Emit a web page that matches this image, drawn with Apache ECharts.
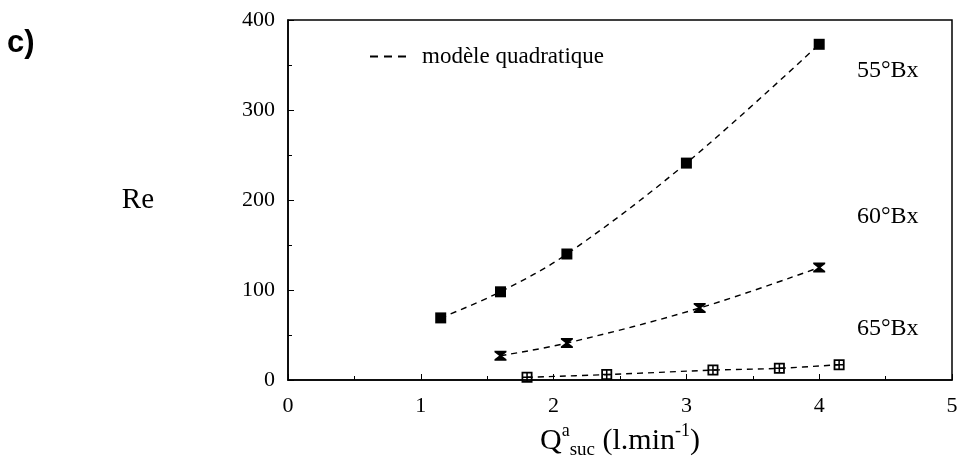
<!DOCTYPE html>
<html><head><meta charset="utf-8">
<script src="https://cdn.jsdelivr.net/npm/echarts@6/dist/echarts.min.js"></script>
<style>html,body{margin:0;padding:0;background:#fff}#c{width:961px;height:472px}</style>
</head><body><div id="c"></div>
<script>
const x55 = [1.15, 1.6, 2.1, 3.0, 4.0];
const y55 = [69, 98, 140, 241, 373];
const x60 = [1.6, 2.1, 3.1, 4.0];
const y60 = [27, 41, 80, 125];
const x65 = [1.8, 2.4, 3.2, 3.7, 4.15];
const y65 = [3, 6, 11, 13, 17];
const seriesLabels = ['55°Bx', '60°Bx', '65°Bx'];
const legendName = 'modèle quadratique';

const zip = (xs, ys) => xs.map((x, i) => [x, ys[i]]);
const FONT = 'Liberation Serif';
const SQ = 'path://M0,0h10v10h-10z';
const HOUR = 'path://M0,0L10,0L10,1.5L6.2,5L10,8.5L10,10L0,10L0,8.5L3.8,5L0,1.5Z';
const BOXPLUS = 'path://M0,0h10v10h-10z M1.6,1.6v2.7h2.7v-2.7z M5.7,1.6v2.7h2.7v-2.7z M1.6,5.7v2.7h2.7v-2.7z M5.7,5.7v2.7h2.7v-2.7z';

function mk(data, sym, size) {
  return {
    name: legendName, type: 'line', data: data, smooth: 0.35,
    symbol: sym, symbolSize: size, showAllSymbol: true,
    lineStyle: {color: '#000', width: 1.4, type: [6, 5]},
    itemStyle: {color: '#000'},
    z: 3
  };
}

const chart = echarts.init(document.getElementById('c'));
chart.setOption({
  animation: false,
  backgroundColor: '#fff',
  grid: {left: 288, right: 9, top: 20, bottom: 92, show: true, borderColor: '#000', borderWidth: 1.5},
  legend: {
    left: 370, top: 45, padding: 0, itemWidth: 38, itemHeight: 2,
    data: [{name: legendName, icon: 'path://M0,0h8v2h-8z M14,0h8v2h-8z M28,0h8v2h-8z'}],
    textStyle: {fontFamily: FONT, fontSize: 23, color: '#000', padding: [0, 0, 0, 10]},
    itemStyle: {color: '#000'}
  },
  xAxis: {
    type: 'value', min: 0, max: 5, interval: 1,
    axisLine: {lineStyle: {color: '#000', width: 1.5}},
    axisTick: {inside: true, length: 6, lineStyle: {color: '#000'}},
    minorTick: {show: true, splitNumber: 2, length: 4, lineStyle: {color: '#000'}},
    splitLine: {show: false},
    axisLabel: {color: '#000', fontFamily: FONT, fontSize: 22, margin: 15},
    name: 'Q{sup|a}{sub|suc} (l.min{sup|-1})',
    nameLocation: 'middle', nameGap: 42,
    nameTextStyle: {
      color: '#000', fontFamily: FONT, fontSize: 30, lineHeight: 38,
      rich: {
        sup: {fontFamily: FONT, fontSize: 18, lineHeight: 18, verticalAlign: 'top', color: '#000'},
        sub: {fontFamily: FONT, fontSize: 19, lineHeight: 19, verticalAlign: 'bottom', color: '#000'}
      }
    }
  },
  yAxis: {
    type: 'value', min: 0, max: 400, interval: 100,
    axisLine: {show: true, lineStyle: {color: '#000', width: 1.5}},
    axisTick: {show: true, inside: true, length: 6, lineStyle: {color: '#000'}},
    minorTick: {show: true, splitNumber: 2, length: 4, lineStyle: {color: '#000'}},
    splitLine: {show: false},
    axisLabel: {color: '#000', fontFamily: FONT, fontSize: 22, margin: 13},
    name: 'Re', nameLocation: 'middle', nameRotate: 0, nameGap: 134,
    nameTextStyle: {color: '#000', fontFamily: FONT, fontSize: 29, padding: [6, 0, 0, 0]}
  },
  series: [
    mk(zip(x55, y55), SQ, 11),
    mk(zip(x60, y60), HOUR, [12, 10]),
    mk(zip(x65, y65), BOXPLUS, 11)
  ],
  graphic: [
    {type: 'text', x: 7, y: 43, style: {text: 'c)', font: 'bold 31px "Liberation Sans"', fill: '#000', textVerticalAlign: 'middle'}},
    {type: 'text', x: 857, y: 71, style: {text: seriesLabels[0], font: '24px "Liberation Serif"', fill: '#000', textVerticalAlign: 'middle'}},
    {type: 'text', x: 857, y: 217, style: {text: seriesLabels[1], font: '24px "Liberation Serif"', fill: '#000', textVerticalAlign: 'middle'}},
    {type: 'text', x: 857, y: 329, style: {text: seriesLabels[2], font: '24px "Liberation Serif"', fill: '#000', textVerticalAlign: 'middle'}}
  ]
});
</script></body></html>
